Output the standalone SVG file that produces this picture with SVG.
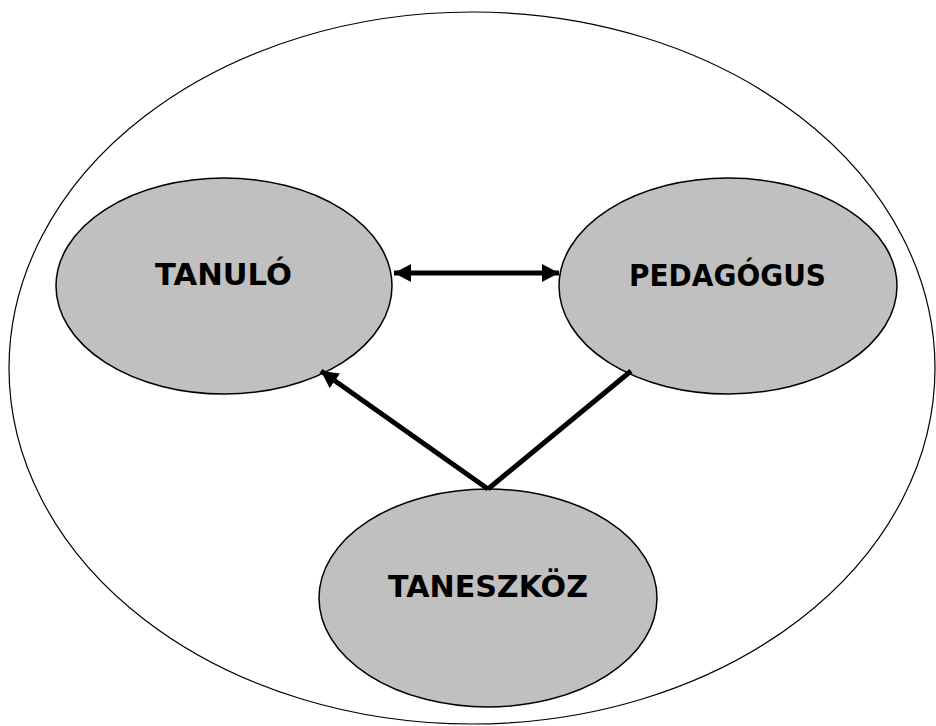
<svg xmlns="http://www.w3.org/2000/svg" width="936" height="726" viewBox="0 0 936 726">
<style>
.node{fill:#c0c0c0;stroke:#000;stroke-width:1.5}
.lbl{font-family:"DejaVu Sans","Liberation Sans",sans-serif;font-weight:bold;font-size:31px;fill:#000;text-anchor:middle}
.con{stroke:#000;stroke-width:5;fill:none}
</style>
<defs>
<marker id="ah" markerUnits="userSpaceOnUse" markerWidth="18" markerHeight="20" refX="17" refY="9" orient="auto-start-reverse" viewBox="0 0 18 18">
<path d="M0,0 L17,9 L0,18 Z" fill="#000"/>
</marker>
</defs>
<rect width="936" height="726" fill="#fff"/>
<ellipse id="outer" cx="472" cy="368" rx="463" ry="356" fill="#fff" stroke="#000" stroke-width="1.2"/>
<g id="tanulo">
<ellipse class="node" cx="224" cy="286" rx="168" ry="108"/>
<text class="lbl" x="223.5" y="285" textLength="137" lengthAdjust="spacingAndGlyphs">TANULÓ</text>
</g>
<g id="pedagogus">
<ellipse class="node" cx="728" cy="286" rx="169" ry="108"/>
<text class="lbl" x="727.5" y="286" textLength="197" lengthAdjust="spacingAndGlyphs">PEDAGÓGUS</text>
</g>
<g id="taneszkoz">
<ellipse class="node" cx="488" cy="598" rx="169" ry="109"/>
<text class="lbl" x="488" y="597" textLength="200" lengthAdjust="spacingAndGlyphs">TANESZKÖZ</text>
</g>
<g id="connectors">
<line class="con" x1="394" y1="273" x2="559" y2="273" marker-start="url(#ah)" marker-end="url(#ah)" stroke-width="4.5"/>
<line class="con" x1="488" y1="489" x2="321" y2="371" marker-end="url(#ah)"/>
<line class="con" x1="488" y1="489" x2="631" y2="371"/>
</g>
</svg>
